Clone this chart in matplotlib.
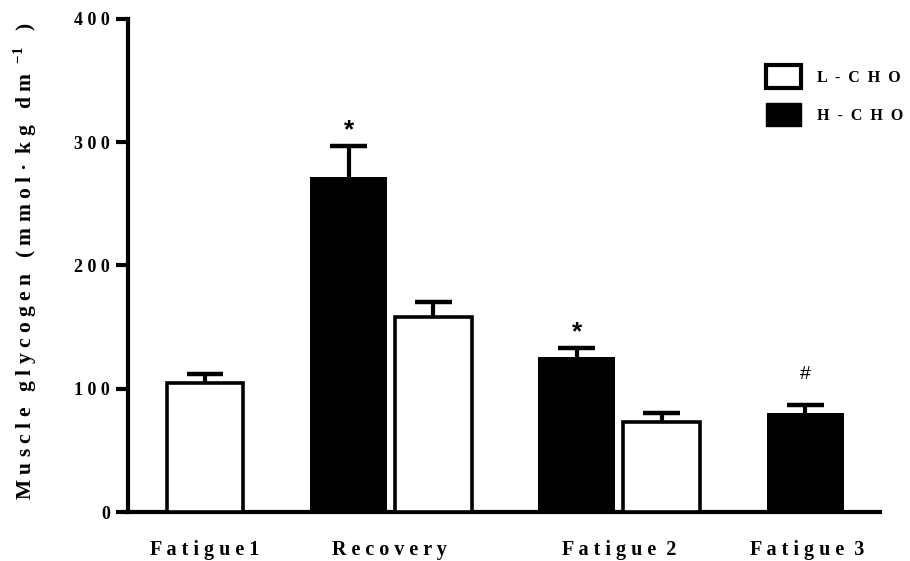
import numpy as np
import matplotlib
matplotlib.use("Agg")
import matplotlib.pyplot as plt
from matplotlib.patches import Patch

# ---------------------------------------------------------------------------
# Data
# ---------------------------------------------------------------------------
groups = ["F a t i g u e 1", "R e c o v e r y", "F a t i g u e  2", "F a t i g u e  3"]
lcho_mean = [104.5, 158.0, 73.0, np.nan]
lcho_sem = [7.5, 12.0, 7.0, np.nan]
hcho_mean = [np.nan, 271.5, 125.5, 80.0]
hcho_sem = [np.nan, 25.5, 7.5, 6.5]
marks = ["", "*", "*", "#"]          # significance mark above H-CHO bar
yticks = [0, 100, 200, 300, 400]

SERIF = ["Liberation Serif", "DejaVu Serif"]
AXLW = 3.0

fig = plt.figure(figsize=(9.1, 5.61), dpi=100)
ax = fig.add_axes([0.1407, 0.0873, 0.826, 0.879])

spacing = 2.967
width = 1.0
cap_half = 0.24
centers = 0.45 + spacing * np.arange(len(groups))
x_h = centers - 0.55
x_l = centers + 0.55

ax.bar(x_h, hcho_mean, width, color="black", edgecolor="black", linewidth=0, zorder=3)
ax.bar(x_l, lcho_mean, width, color="white", edgecolor="black", linewidth=2.6, zorder=3)

# upper-only error bars
for xs, m, e in ((x_h, hcho_mean, hcho_sem), (x_l, lcho_mean, lcho_sem)):
    m = np.asarray(m)
    e = np.asarray(e)
    ok = ~np.isnan(m)
    ax.vlines(xs[ok], m[ok], m[ok] + e[ok], color="black", linewidth=3.0, zorder=2)
    ax.hlines(m[ok] + e[ok], xs[ok] - cap_half, xs[ok] + cap_half, color="black",
              linewidth=3.2, zorder=2)

for x, m, e, s in zip(x_h, hcho_mean, hcho_sem, marks):
    if not s or np.isnan(m):
        continue
    if s == "*":
        ax.text(x, m + e + 3, s, ha="center", va="bottom", fontsize=19,
                fontweight="bold", family="Liberation Sans")
    else:
        ax.text(x, m + e + 18, s, ha="center", va="bottom", fontsize=14,
                family="Liberation Sans")

ax.set_xlim(0, 9.77)
ax.set_ylim(0, 400)
ax.set_yticks(yticks)
ax.set_yticklabels([" ".join(str(t)) for t in yticks], family=SERIF,
                   fontweight="bold", fontsize=13)

label_x = [1.0, 3.4, 6.39, 8.83]
ax.set_xticks(label_x)
ax.set_xticklabels(groups, family=SERIF, fontweight="bold", fontsize=14.5)
ax.tick_params(axis="x", length=0, pad=20)
ax.tick_params(axis="y", length=9, width=AXLW, direction="out", pad=4)

for side in ("top", "right"):
    ax.spines[side].set_visible(False)
for side in ("left", "bottom"):
    ax.spines[side].set_linewidth(AXLW)

ax.set_ylabel("M u s c l e   g l y c o g e n   ( m m o l ·  k g   d m $^{\\ \\mathregular{- 1}}$   )",
              family=SERIF, fontweight="bold", fontsize=15.5, labelpad=28)
ax.yaxis.set_label_coords(-0.118, 0.51)

handles = [Patch(facecolor="white", edgecolor="black", linewidth=3.0),
           Patch(facecolor="black", edgecolor="black")]
leg = ax.legend(handles, ["L  -  C  H  O", "H  -  C  H  O"], loc="upper right",
                bbox_to_anchor=(1.05, 0.935), frameon=False,
                prop={"family": SERIF, "weight": "bold", "size": 11.5},
                handlelength=2.2, handleheight=1.8, labelspacing=0.95,
                handletextpad=1.0)

fig.savefig("out.png", dpi=100)
